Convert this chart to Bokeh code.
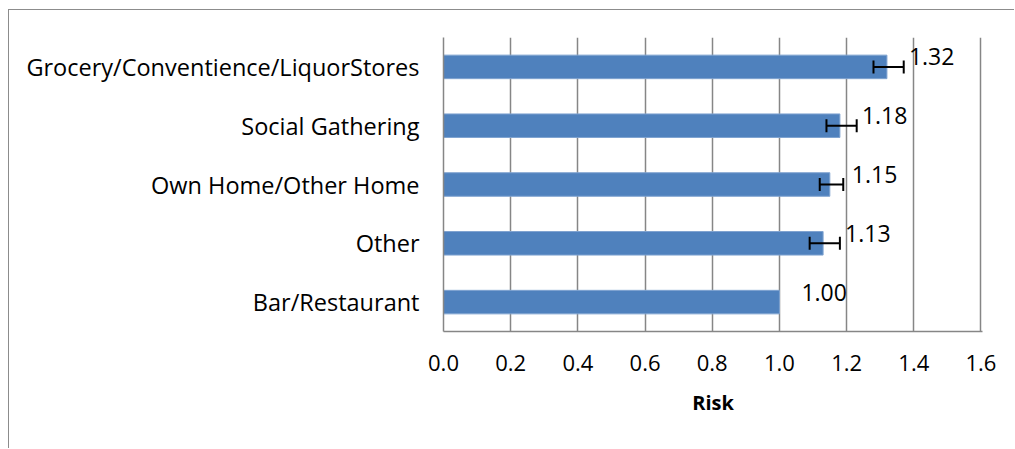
import math
from bokeh.plotting import figure
from bokeh.models import ColumnDataSource, Whisker, TeeHead, Range1d, FixedTicker
from bokeh.core.properties import value
from bokeh.embed import file_html
from bokeh.resources import INLINE

categories = ["Grocery/Conventience/LiquorStores", "Social Gathering",
              "Own Home/Other Home", "Other", "Bar/Restaurant"]
risk = [1.32, 1.18, 1.15, 1.13, 1.00]
lower = [1.28, 1.14, 1.12, 1.09, float("nan")]
upper = [1.37, 1.23, 1.19, 1.18, float("nan")]
labels = ["1.32", "1.18", "1.15", "1.13", "1.00"]
x_ticks = [0.0, 0.2, 0.4, 0.6, 0.8, 1.0, 1.2, 1.4, 1.6]
x_tick_labels = ["0.0", "0.2", "0.4", "0.6", "0.8", "1.0", "1.2", "1.4", "1.6"]

FONT = "Open Sans"
GRAY = "#868686"

p = figure(width=1006, height=439, output_backend="svg", toolbar_location=None,
           y_range=list(reversed(categories)), x_range=Range1d(0, 1.6045),
           min_border_left=434, min_border_right=33, min_border_top=27,
           min_border_bottom=118)
p.styles = {"margin-left": "8px", "margin-top": "9px",
            "border-top": "1px solid #8c8c8c", "border-left": "1px solid #8c8c8c"}
p.outline_line_color = None

src = ColumnDataSource(dict(cat=categories, risk=risk, label=labels))
p.hbar(y="cat", right="risk", left=0, height=0.4, source=src,
       fill_color="#4F81BD", line_color="#7fa3d0", line_width=1)

eb_idx = [i for i in range(len(categories)) if not math.isnan(lower[i])]
eb = ColumnDataSource(dict(cat=[categories[i] for i in eb_idx],
                           lower=[lower[i] for i in eb_idx],
                           upper=[upper[i] for i in eb_idx]))
w = Whisker(source=eb, base="cat", lower="lower", upper="upper", dimension="width",
            line_color="black", line_width=2, level="overlay",
            lower_head=TeeHead(size=13, line_color="black", line_width=2),
            upper_head=TeeHead(size=13, line_color="black", line_width=2))
p.add_layout(w)

p.text(x="risk", y="cat", text="label", source=src, x_offset=22, y_offset=-10,
       text_font=value(FONT), text_font_size="23px", text_color="black",
       text_baseline="middle", text_align="left")

p.xgrid.grid_line_color = GRAY
p.xgrid.grid_line_width = 1.5
p.ygrid.grid_line_color = None
p.xaxis.ticker = FixedTicker(ticks=x_ticks)
p.xaxis.major_label_overrides = {t: l for t, l in zip(x_ticks, x_tick_labels)}
p.xaxis.axis_label = "Risk"
p.xaxis.axis_label_text_font = FONT
p.xaxis.axis_label_text_font_style = "bold"
p.xaxis.axis_label_text_font_size = "20px"
p.xaxis.axis_label_text_color = "black"
p.xaxis.axis_label_standoff = 15
p.xaxis.major_label_text_font = FONT
p.xaxis.major_label_text_font_size = "22px"
p.xaxis.major_label_text_color = "black"
p.xaxis.major_label_standoff = 23
p.xaxis.major_tick_line_color = None
p.xaxis.minor_tick_line_color = None
p.xaxis.major_tick_out = 0
p.xaxis.major_tick_in = 0
p.xaxis.axis_line_color = GRAY
p.xaxis.axis_line_width = 1.5

p.yaxis.major_label_text_font = FONT
p.yaxis.major_label_text_font_size = "23.5px"
p.yaxis.major_label_text_color = "black"
p.yaxis.major_label_standoff = 24
p.yaxis.major_tick_line_color = None
p.yaxis.major_tick_out = 0
p.yaxis.major_tick_in = 0
p.yaxis.axis_line_color = GRAY
p.yaxis.axis_line_width = 1.5

open("out.html", "w").write(file_html(p, INLINE))
